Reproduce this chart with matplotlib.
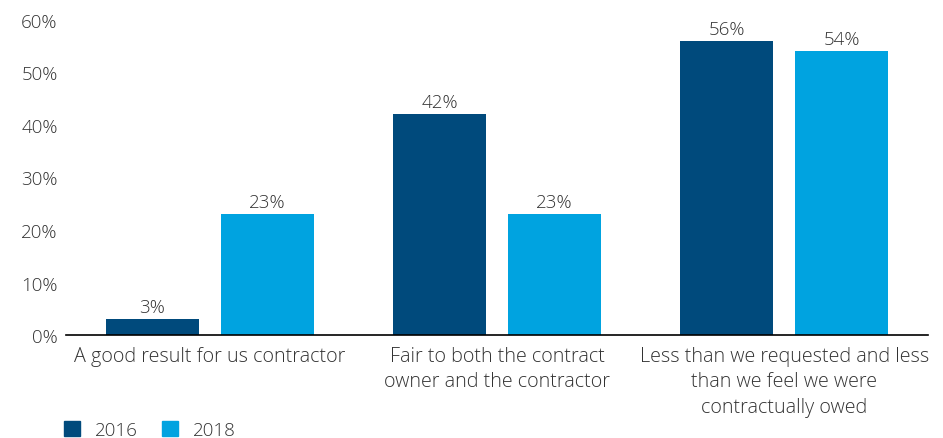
import numpy as np
import matplotlib.pyplot as plt
from matplotlib.patches import Patch

plt.rcParams['font.family'] = ['Open Sans', 'DejaVu Sans']
plt.rcParams['font.weight'] = 'light'

categories = ["A good result for us contractor",
              "Fair to both the contract\nowner and the contractor",
              "Less than we requested and less\nthan we feel we were\ncontractually owed"]
years = ["2016", "2018"]
values_2016 = [3, 42, 56]
values_2018 = [23, 23, 54]

c2016 = "#004A7C"
c2018 = "#00A3E0"
txt = "#333333"

fig = plt.figure(figsize=(9.43, 4.39), dpi=100)
ax = fig.add_axes([0.070, 0.2346, 0.914, 0.7176])

x = np.arange(len(categories))
w = 0.3235
b1 = ax.bar(x - 0.2, values_2016, w, color=c2016)
b2 = ax.bar(x + 0.2, values_2018, w, color=c2018)

for bars, vals in [(b1, values_2016), (b2, values_2018)]:
    for r, v in zip(bars, vals):
        ax.text(r.get_x() + r.get_width() / 2, v + 0.6, f"{v}%", ha="center", va="bottom",
                fontsize=13.5, color=txt)

ax.set_xlim(-0.5, 2.5)
ax.set_ylim(0, 60)
ax.set_yticks(range(0, 61, 10))
ax.set_yticklabels([f"{t}%" for t in range(0, 61, 10)])
ax.set_xticks(x)
ax.set_xticklabels(categories, linespacing=1.35, fontsize=14.2)
ax.tick_params(length=0, labelsize=13.5, colors=txt)
ax.tick_params(axis="x", pad=8, labelsize=14.2)
ax.tick_params(axis="y", pad=6)
for s in ["top", "right", "left"]:
    ax.spines[s].set_visible(False)
ax.spines["bottom"].set_color("black")
ax.spines["bottom"].set_linewidth(1.2)

handles = [Patch(color=c2016), Patch(color=c2018)]
fig.legend(handles, years, loc="lower left", bbox_to_anchor=(0.050, -0.04), ncol=2,
           frameon=False, fontsize=13.5, handlelength=0.85, handleheight=0.85,
           handletextpad=0.8, columnspacing=1.3, labelcolor=txt)

fig.savefig("out.png", dpi=100)
